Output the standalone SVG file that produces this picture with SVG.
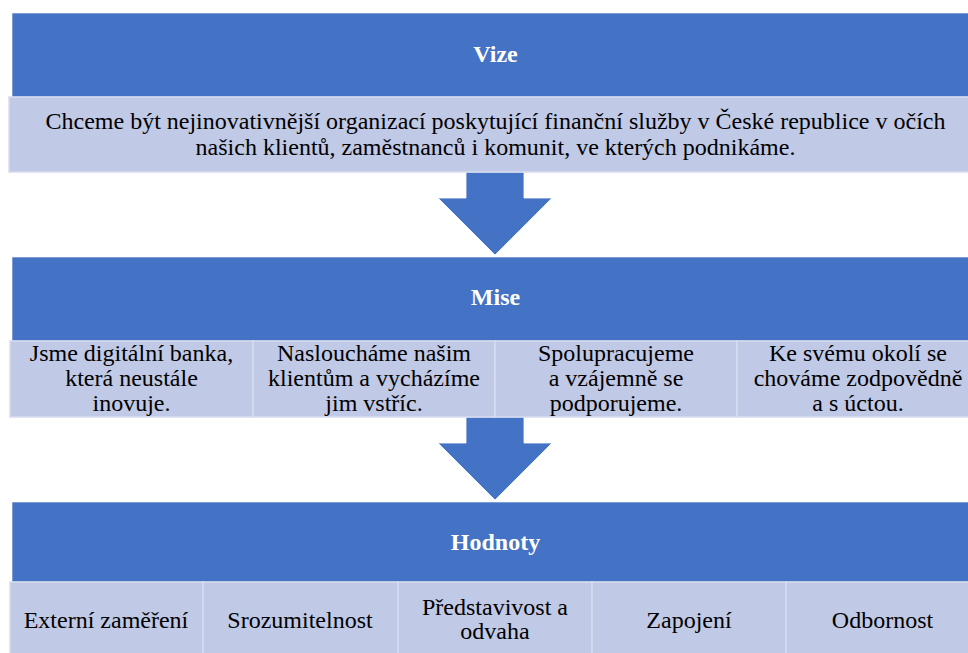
<svg xmlns="http://www.w3.org/2000/svg" width="968" height="653" viewBox="0 0 968 653">
<style>
.hdr{fill:#4472C4;stroke:#ffffff;stroke-width:1;stroke-opacity:0.6}
.cell{fill:#C0C9E5;stroke:#D6DCEF;stroke-width:1.5}
.arr{fill:#4472C4;stroke:#ffffff;stroke-width:1;stroke-opacity:0.8}
.ht{font-family:'Liberation Serif','Times New Roman',serif;font-size:24px;font-weight:bold;fill:#ffffff;text-anchor:middle}
.ct{font-family:'Liberation Serif','Times New Roman',serif;font-size:24px;fill:#000000;text-anchor:middle}
</style>
<rect width="968" height="653" fill="#ffffff"/>
<g id="connectors">
<polygon class="arr" points="466,172 524,172 524,198 552,198 495,255 438,198 466,198"/>
<polygon class="arr" points="466,417 524,417 524,443 552,443 495,500 438,443 466,443"/>
</g>
<g id="vize">
<rect class="hdr" x="12" y="13" width="967" height="84"/>
<text class="ht" x="495.5" y="62">Vize</text>
<rect class="cell" x="9" y="97" width="970" height="75"/>
<text class="ct" x="495.5" y="129">Chceme být nejinovativnější organizací poskytující finanční služby v České republice v očích</text>
<text class="ct" x="495.5" y="155">našich klientů, zaměstnanců i komunit, ve kterých podnikáme.</text>
</g>
<g id="mise">
<rect class="hdr" x="12" y="257" width="967" height="84"/>
<text class="ht" x="495.5" y="305">Mise</text>
<g id="mise-1">
<rect class="cell" x="10" y="341" width="243" height="76"/>
<text class="ct" x="131.5" y="361">Jsme digitální banka,</text>
<text class="ct" x="131.5" y="386">která neustále</text>
<text class="ct" x="131.5" y="411">inovuje.</text>
</g>
<g id="mise-2">
<rect class="cell" x="253" y="341" width="242" height="76"/>
<text class="ct" x="374" y="361">Nasloucháme našim</text>
<text class="ct" x="374" y="386">klientům a vycházíme</text>
<text class="ct" x="374" y="411">jim vstříc.</text>
</g>
<g id="mise-3">
<rect class="cell" x="495" y="341" width="242" height="76"/>
<text class="ct" x="616" y="361">Spolupracujeme</text>
<text class="ct" x="616" y="386">a vzájemně se</text>
<text class="ct" x="616" y="411">podporujeme.</text>
</g>
<g id="mise-4">
<rect class="cell" x="737" y="341" width="242" height="76"/>
<text class="ct" x="858" y="361">Ke svému okolí se</text>
<text class="ct" x="858" y="386">chováme zodpovědně</text>
<text class="ct" x="858" y="411">a s úctou.</text>
</g>
</g>
<g id="hodnoty">
<rect class="hdr" x="12" y="502" width="967" height="80"/>
<text class="ht" x="495.5" y="550">Hodnoty</text>
<g id="hodnoty-1">
<rect class="cell" x="10" y="582" width="193" height="78"/>
<text class="ct" x="106" y="628">Externí zaměření</text>
</g>
<g id="hodnoty-2">
<rect class="cell" x="203" y="582" width="195" height="78"/>
<text class="ct" x="300" y="628">Srozumitelnost</text>
</g>
<g id="hodnoty-3">
<rect class="cell" x="398" y="582" width="194" height="78"/>
<text class="ct" x="495" y="615">Představivost a</text>
<text class="ct" x="495" y="639">odvaha</text>
</g>
<g id="hodnoty-4">
<rect class="cell" x="592" y="582" width="194" height="78"/>
<text class="ct" x="689" y="628">Zapojení</text>
</g>
<g id="hodnoty-5">
<rect class="cell" x="786" y="582" width="193" height="78"/>
<text class="ct" x="882.5" y="628">Odbornost</text>
</g>
</g>
</svg>
